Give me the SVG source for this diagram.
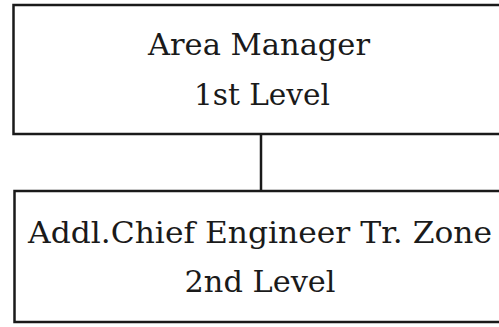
<svg xmlns="http://www.w3.org/2000/svg" width="499" height="327" viewBox="0 0 499 327">
<style>
.box{fill:#fff;stroke:#1a1a1a;stroke-width:2.5}
.t{font-family:"DejaVu Serif","Liberation Serif",serif;font-size:30px;fill:#1a1a1a;text-anchor:middle}
.c{stroke:#1a1a1a;stroke-width:2.5;fill:none}
</style>
<rect width="499" height="327" fill="#fff"/>
<g id="connectors">
<line class="c" x1="261" y1="134" x2="261" y2="191"/>
</g>
<g id="n1">
<rect class="box" x="13.5" y="5" width="500" height="129"/>
<text class="t" x="259" y="55" textLength="222" lengthAdjust="spacingAndGlyphs">Area Manager</text>
<text class="t" x="262" y="105" textLength="136" lengthAdjust="spacingAndGlyphs">1st Level</text>
</g>
<g id="n2">
<rect class="box" x="14.5" y="191" width="500" height="131"/>
<text class="t" x="260" y="243" textLength="464" lengthAdjust="spacingAndGlyphs">Addl.Chief Engineer Tr. Zone</text>
<text class="t" x="260" y="292" textLength="151" lengthAdjust="spacingAndGlyphs">2nd Level</text>
</g>
</svg>
